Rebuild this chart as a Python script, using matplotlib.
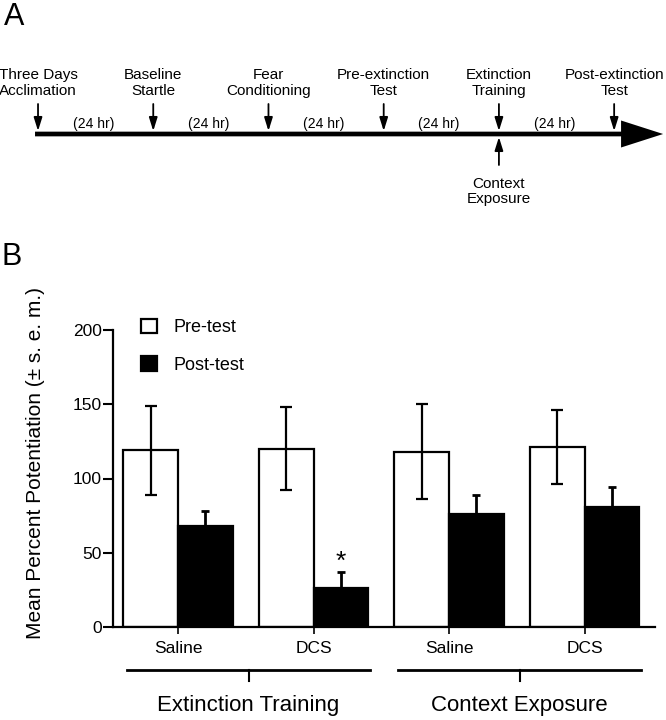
import numpy as np
import matplotlib
matplotlib.use("Agg")
import matplotlib.pyplot as plt
from matplotlib.patches import FancyArrow
from matplotlib.transforms import blended_transform_factory

plt.rcParams['font.family'] = ['Liberation Sans', 'DejaVu Sans']

# ---- panel A: timeline ----
events = ["Three Days\nAcclimation", "Baseline\nStartle", "Fear\nConditioning",
          "Pre-extinction\nTest", "Extinction\nTraining", "Post-extinction\nTest"]
event_day = [0, 1, 2, 3, 4, 5]
interval_label = "(24 hr)"
alt_event = "Context\nExposure"
alt_day = 4

# ---- panel B: bars ----
drugs = ["Saline", "DCS", "Saline", "DCS"]
groups = ["Extinction Training", "Context Exposure"]
pre_mean = [119, 120, 118, 121]
pre_sem = [30, 28, 32, 25]
post_mean = [68, 26, 76, 81]
post_sem = [10, 11, 13, 13]
signif = [False, True, False, False]

fig = plt.figure(figsize=(6.66, 7.2), dpi=100)

# panel A axes covers top of the figure; y in pixel-like units (inverted)
axa = fig.add_axes([0, 1 - 265 / 720, 1, 265 / 720])
axa.set_xlim(-0.33, 5.45)
axa.set_ylim(265, 0)
axa.axis('off')

fig.text(4 / 666, 1 - 17 / 720, "A", fontsize=22, va='center', ha='left')
fig.text(1 / 666, 1 - 257 / 720, "B", fontsize=22, va='center', ha='left')

line_y = 134
arrow_small = dict(arrowstyle="-|>,head_length=0.8,head_width=0.25",
                   mutation_scale=10, lw=1.3, color='black', shrinkA=0, shrinkB=0)
axa.add_patch(FancyArrow(-0.026, line_y, 5.451, 0, width=4.7, head_width=27,
                         head_length=0.365, length_includes_head=True,
                         color='black', lw=0))
for lab, d in zip(events, event_day):
    axa.annotate("", xy=(d, 131), xytext=(d, 104), arrowprops=arrow_small)
    axa.text(d, 83, lab, ha='center', va='center', fontsize=11,
             linespacing=1.12)
for d0, d1 in zip(event_day[:-1], event_day[1:]):
    axa.text((d0 + d1) / 2 - 0.02, 124, interval_label, ha='center', va='center',
             fontsize=10)
axa.annotate("", xy=(alt_day, 137), xytext=(alt_day, 165), arrowprops=arrow_small)
axa.text(alt_day, 191.5, alt_event, ha='center', va='center', fontsize=11,
         linespacing=1.12)

# panel B
ax = fig.add_axes([113 / 666, 1 - 627 / 720, (655 - 113) / 666, 297 / 720])
x = np.arange(len(drugs))
w = 0.405
ax.bar(x - w / 2, pre_mean, w, color='white', edgecolor='black', linewidth=1.6,
       label='Pre-test', zorder=2)
ax.bar(x + w / 2, post_mean, w, color='black', edgecolor='black', linewidth=1.6,
       label='Post-test', zorder=2)
ax.errorbar(x - w / 2, pre_mean, yerr=pre_sem, fmt='none', ecolor='black',
            elinewidth=1.6, capsize=4.5, capthick=1.6, zorder=3)
ax.errorbar(x + w / 2, post_mean, yerr=post_sem, fmt='none', ecolor='black',
            elinewidth=2.0, capsize=3.2, capthick=2.0, zorder=1)
for xi, m, s, sg in zip(x, post_mean, post_sem, signif):
    if sg:
        ax.text(xi + w / 2, m + s - 1, "*", ha='center', va='bottom', fontsize=19)

ax.set_xlim(-0.48, 3.52)
ax.set_ylim(0, 200)
ax.set_yticks([0, 50, 100, 150, 200])
ax.tick_params(axis='y', direction='out', length=7, width=1.5, labelsize=12.5, pad=1)
ax.set_xticks(x)
ax.set_xticklabels(drugs, fontsize=12.5)
ax.tick_params(axis='x', direction='out', length=5, width=1.2, pad=5)
for s in ['top', 'right']:
    ax.spines[s].set_visible(False)
for s in ['left', 'bottom']:
    ax.spines[s].set_linewidth(1.6)
ax.set_ylabel("Mean Percent Potentiation (± s. e. m.)", fontsize=15)
ax.yaxis.set_label_coords(-0.125, 0.552)

leg = ax.legend(loc='upper left', bbox_to_anchor=(0.0517, 1.037), frameon=False,
                fontsize=13, handlelength=0.89, handleheight=0.85,
                labelspacing=1.1, handletextpad=0.89, borderpad=0,
                borderaxespad=0)

trans = blended_transform_factory(ax.transData, ax.transAxes)
for gi, g in enumerate(groups):
    lo, hi = 2 * gi - 0.38, 2 * gi + 1.42
    mid = (lo + hi) / 2
    ax.plot([lo, hi], [-0.145, -0.145], color='black', lw=2, transform=trans,
            clip_on=False)
    ax.plot([mid, mid], [-0.145, -0.182], color='black', lw=1.5, transform=trans,
            clip_on=False)
    ax.text(mid, -0.263, g, ha='center', va='center', fontsize=16,
            transform=trans)

fig.savefig("out.png", dpi=100)
